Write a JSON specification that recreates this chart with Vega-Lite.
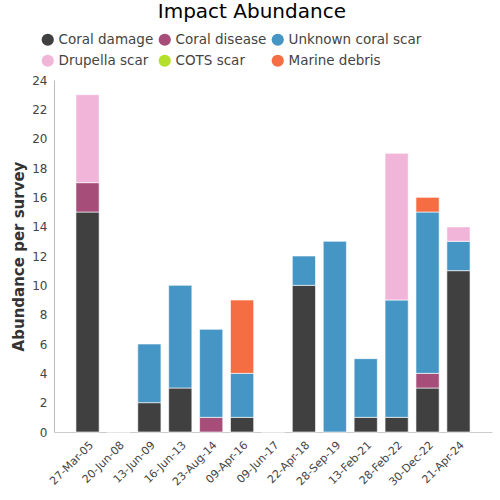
{
  "$schema": "https://vega.github.io/schema/vega-lite/v6.json",
  "autosize": {"type": "fit", "contains": "padding"},
  "width": 500,
  "height": 500,
  "padding": {"left": 11, "right": 8, "top": 2, "bottom": 12},
  "config": {
    "font": "DejaVu Sans",
    "view": {"stroke": null},
    "axis": {"labelFont": "DejaVu Sans", "titleFont": "DejaVu Sans", "labelColor": "#444444", "domainColor": "#bbbbbb"}
  },
  "title": {"text": "Impact Abundance", "fontSize": 20, "fontWeight": "normal", "color": "#000000", "font": "DejaVu Sans", "offset": 52, "frame": "bounds", "anchor": "middle"},
  "data": {
    "values": [
      {"date": "27-Mar-05", "type": "Coral damage", "value": 15},
      {"date": "27-Mar-05", "type": "Coral disease", "value": 2},
      {"date": "27-Mar-05", "type": "Drupella scar", "value": 6},
      {"date": "20-Jun-08", "type": "Coral damage", "value": 0},
      {"date": "13-Jun-09", "type": "Coral damage", "value": 2},
      {"date": "13-Jun-09", "type": "Unknown coral scar", "value": 4},
      {"date": "16-Jun-13", "type": "Coral damage", "value": 3},
      {"date": "16-Jun-13", "type": "Unknown coral scar", "value": 7},
      {"date": "23-Aug-14", "type": "Coral disease", "value": 1},
      {"date": "23-Aug-14", "type": "Unknown coral scar", "value": 6},
      {"date": "09-Apr-16", "type": "Coral damage", "value": 1},
      {"date": "09-Apr-16", "type": "Unknown coral scar", "value": 3},
      {"date": "09-Apr-16", "type": "Marine debris", "value": 5},
      {"date": "09-Jun-17", "type": "Coral damage", "value": 0},
      {"date": "22-Apr-18", "type": "Coral damage", "value": 10},
      {"date": "22-Apr-18", "type": "Unknown coral scar", "value": 2},
      {"date": "28-Sep-19", "type": "Unknown coral scar", "value": 13},
      {"date": "13-Feb-21", "type": "Coral damage", "value": 1},
      {"date": "13-Feb-21", "type": "Unknown coral scar", "value": 4},
      {"date": "28-Feb-22", "type": "Coral damage", "value": 1},
      {"date": "28-Feb-22", "type": "Unknown coral scar", "value": 8},
      {"date": "28-Feb-22", "type": "Drupella scar", "value": 10},
      {"date": "30-Dec-22", "type": "Coral damage", "value": 3},
      {"date": "30-Dec-22", "type": "Coral disease", "value": 1},
      {"date": "30-Dec-22", "type": "Unknown coral scar", "value": 11},
      {"date": "30-Dec-22", "type": "Marine debris", "value": 1},
      {"date": "21-Apr-24", "type": "Coral damage", "value": 11},
      {"date": "21-Apr-24", "type": "Unknown coral scar", "value": 2},
      {"date": "21-Apr-24", "type": "Drupella scar", "value": 1},
      {"date": "21-Apr-24", "type": "COTS scar", "value": 0}
    ]
  },
  "transform": [
    {"calculate": "indexof(['Coral damage','Coral disease','Unknown coral scar','Drupella scar','COTS scar','Marine debris'], datum.type)", "as": "ord"}
  ],
  "mark": {"type": "bar", "stroke": "#ffffff", "strokeOpacity": 0.6, "strokeWidth": 1},
  "encoding": {
    "x": {
      "field": "date", "type": "nominal", "sort": null,
      "scale": {"paddingInner": 0.25, "paddingOuter": 0.71},
      "axis": {"title": null, "labelAngle": -45, "labelFontSize": 11, "ticks": false, "labelPadding": 7, "domainColor": "#cccccc"}
    },
    "y": {
      "field": "value", "type": "quantitative", "aggregate": "sum", "stack": "zero",
      "scale": {"domain": [0, 24], "nice": false},
      "axis": {"title": "Abundance per survey", "titleFontSize": 15, "titleFontWeight": "bold", "titleColor": "#333333", "labelFontSize": 12, "labelOverlap": false, "grid": false, "ticks": false, "values": [0,2,4,6,8,10,12,14,16,18,20,22,24], "labelPadding": 7, "titlePadding": 5}
    },
    "color": {
      "field": "type", "type": "nominal",
      "scale": {
        "domain": ["Coral damage", "Coral disease", "Unknown coral scar", "Drupella scar", "COTS scar", "Marine debris"],
        "range": ["#404040", "#a64d79", "#4596c5", "#f1b5da", "#b4e02a", "#f46d43"]
      },
      "legend": {"title": null, "orient": "none", "legendX": -13, "legendY": -47, "direction": "horizontal", "columns": 3, "symbolType": "circle", "symbolSize": 150, "symbolStrokeWidth": 0, "labelFontSize": 13.5, "labelColor": "#444444", "gridAlign": "none", "columnPadding": 4, "rowPadding": 6}
    },
    "order": {"field": "ord", "type": "quantitative"}
  }
}
